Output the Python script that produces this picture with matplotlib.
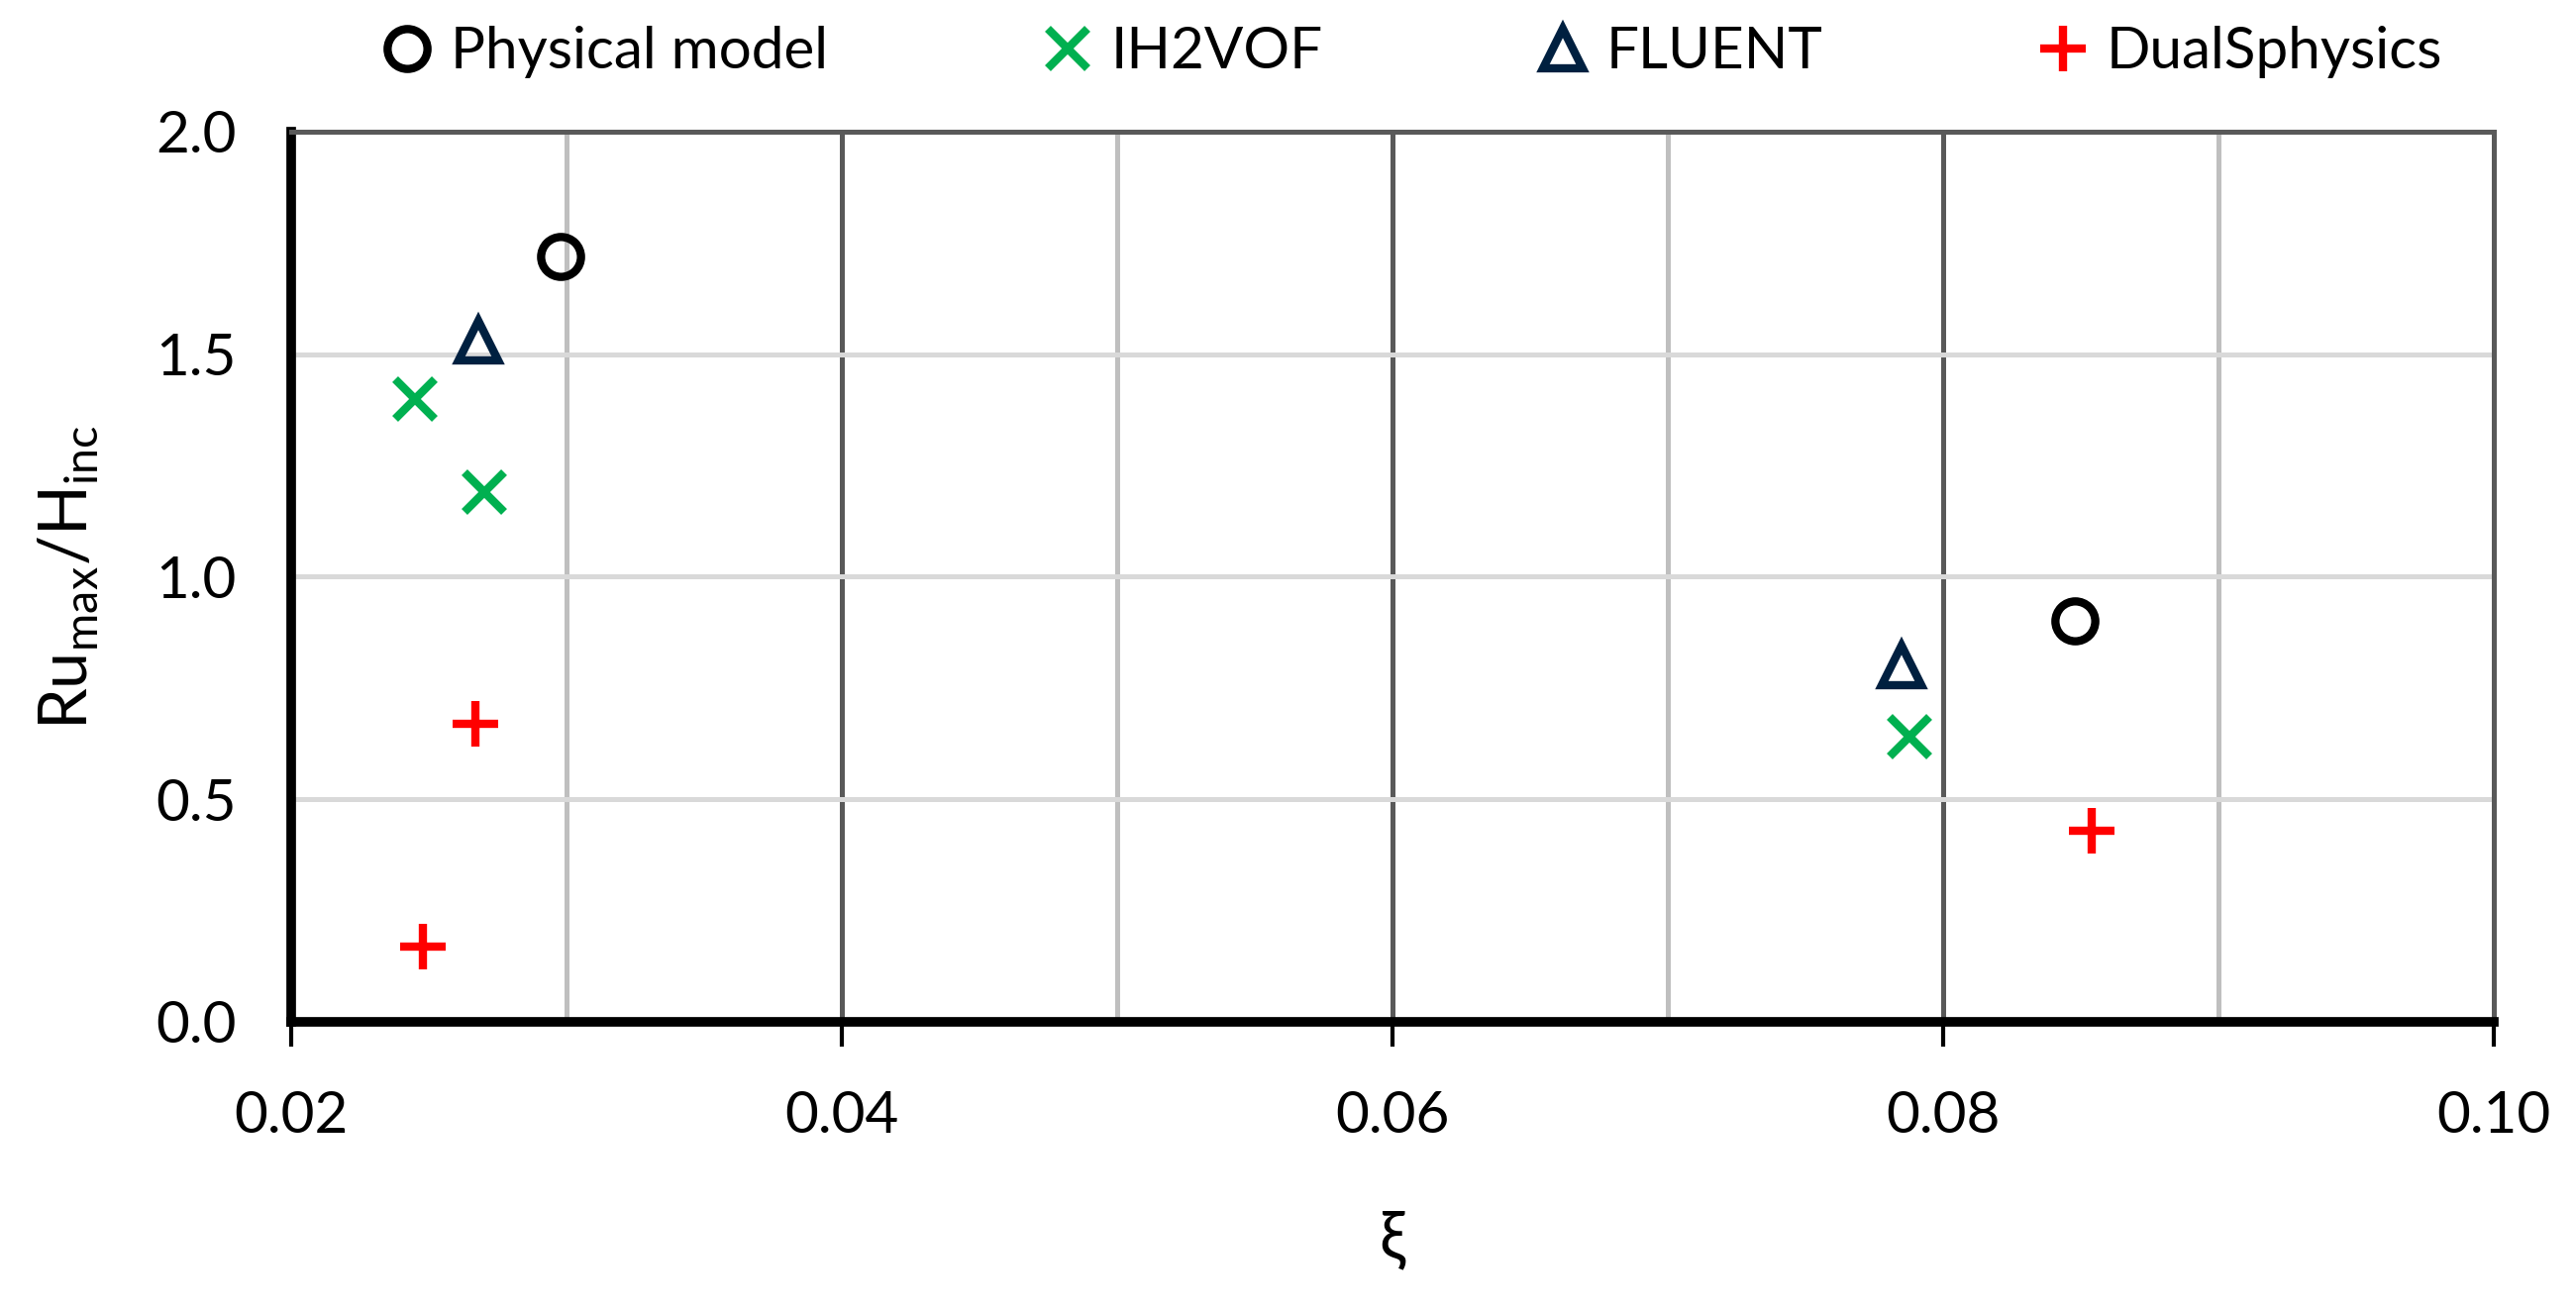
import matplotlib.pyplot as plt
from matplotlib.ticker import FixedLocator

plt.rcParams['font.family'] = ['Lato', 'DejaVu Sans']
plt.rcParams['mathtext.fontset'] = 'custom'
plt.rcParams['mathtext.rm'] = 'Lato'

# data
phys_x = [0.0298, 0.0848]
phys_y = [1.72, 0.90]
ih_x = [0.0245, 0.0270, 0.0788]
ih_y = [1.40, 1.19, 0.64]
fluent_x = [0.0268, 0.0785]
fluent_y = [1.53, 0.80]
dual_x = [0.0267, 0.0248, 0.0854]
dual_y = [0.67, 0.17, 0.43]

x_ticks = [0.02, 0.04, 0.06, 0.08, 0.10]
x_labels = ['0.02', '0.04', '0.06', '0.08', '0.10']
x_minor = [0.03, 0.05, 0.07, 0.09]
y_ticks = [0, 0.5, 1.0, 1.5, 2.0]
y_labels = ['0.0', '0.5', '1.0', '1.5', '2.0']

fig = plt.figure(figsize=(13.005, 6.615), dpi=200)
ax = fig.add_axes([0.113, 0.22, 0.855, 0.6795])

ax.set_xlim(0.02, 0.10)
ax.set_ylim(0, 2.0)
ax.set_xticks(x_ticks)
ax.set_xticklabels(x_labels)
ax.xaxis.set_minor_locator(FixedLocator(x_minor))
ax.set_yticks(y_ticks)
ax.set_yticklabels(y_labels)

# grids
ax.grid(which='major', axis='x', color='#595959', lw=1.8)
ax.grid(which='minor', axis='x', color='#BFBFBF', lw=1.8)
ax.grid(which='major', axis='y', color='#D9D9D9', lw=1.8)
ax.set_axisbelow(True)

for s in ['top', 'right']:
    ax.spines[s].set_color('#595959')
    ax.spines[s].set_linewidth(1.8)
for s in ['left', 'bottom']:
    ax.spines[s].set_color('black')
    ax.spines[s].set_linewidth(3.5)

ms = 14.5
mew = 3.0
ax.plot(phys_x, phys_y, ls='none', marker='o', ms=ms, mfc='none', mec='black', mew=mew,
        label='Physical model', clip_on=False)
ax.plot(ih_x, ih_y, ls='none', marker='x', ms=ms, mec='#00B050', mew=mew,
        label='IH2VOF', clip_on=False)
ax.plot(fluent_x, fluent_y, ls='none', marker='^', ms=ms, mfc='none', mec='#002040', mew=mew,
        label='FLUENT', clip_on=False)
ax.plot(dual_x, dual_y, ls='none', marker='+', ms=ms + 2, mec='#FF0000', mew=mew,
        label='DualSphysics', clip_on=False)

ax.tick_params(axis='x', which='major', direction='out', length=9, width=1.5, pad=16,
               labelsize=21)
ax.tick_params(axis='x', which='minor', length=0)
ax.tick_params(axis='y', length=0, pad=20, labelsize=21)

ax.set_xlabel('ξ', fontsize=24, labelpad=24)
ax.set_ylabel(r'Ru$_{\mathrm{max}}$/H$_{\mathrm{inc}}$', fontsize=24, labelpad=20)

fig.legend(loc='center', bbox_to_anchor=(0.547, 0.96), ncol=4, frameon=False,
           fontsize=21, handletextpad=0.2, columnspacing=3.6, handlelength=1.1)

fig.savefig('out.png', dpi=200)
